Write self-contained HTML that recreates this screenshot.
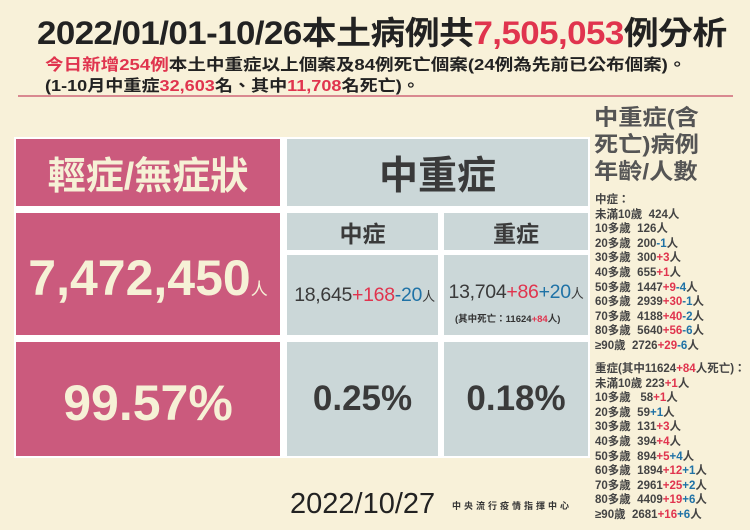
<!DOCTYPE html>
<html><head><meta charset="utf-8"><style>
*{margin:0;padding:0;box-sizing:border-box}
body{width:750px;height:530px;background:#f8f1d9;position:relative;overflow:hidden;font-family:"Liberation Sans","Noto Sans CJK TC",sans-serif;font-weight:bold;color:#333}
.a{position:absolute;white-space:nowrap}
.r{color:#e0344e}.b{color:#1f72a6}
.p{position:absolute;background:#cb5a7d;color:#f6f1d6;display:flex;align-items:center;justify-content:center;white-space:nowrap}
.g{position:absolute;background:#cbd7d8;color:#3a3a3a;display:flex;align-items:center;justify-content:center;white-space:nowrap}
.rt{position:absolute;left:595px;font-size:11.5px;color:#444;line-height:14.6px;white-space:nowrap}
</style></head><body>
<div class="a" style="left:37px;top:8px;font-size:32px;color:#222;letter-spacing:-0.5px;transform:scaleX(1.09);transform-origin:left">2022/01/01-10/26本土病例共<span class="r">7,505,053</span>例分析</div>
<div class="a" style="left:45px;top:51px;font-size:16px;color:#222;transform:scaleX(1.16);transform-origin:left"><span class="r">今日新增254例</span>本土中重症以上個案及84例死亡個案(24例為先前已公布個案)。</div>
<div class="a" style="left:45px;top:72px;font-size:16px;color:#222;transform:scaleX(1.13);transform-origin:left">(1-10月中重症<span class="r">32,603</span>名、其中<span class="r">11,708</span>名死亡)。</div>
<div class="a" style="left:18px;top:95px;width:715px;height:2px;background:#d98990"></div>
<div class="a" style="left:14px;top:137px;width:576px;height:321px;background:#fff"></div>
<div class="p" style="left:16px;top:139px;width:264px;height:67px;font-size:38px">輕症/無症狀</div>
<div class="p" style="left:16px;top:213px;width:264px;height:122px;font-size:50px"><span style="margin-top:8px">7,472,450<span style="font-size:17px;font-weight:normal">人</span></span></div>
<div class="p" style="left:16px;top:342px;width:264px;height:114px;font-size:50px"><span style="margin-top:8px">99.57%</span></div>
<div class="g" style="left:287px;top:139px;width:301px;height:67px;font-size:39px">中重症</div>
<div class="g" style="left:287px;top:213px;width:151px;height:37px;font-size:23px">中症</div>
<div class="g" style="left:444px;top:213px;width:144px;height:37px;font-size:23px">重症</div>
<div class="g" style="left:287px;top:255px;width:151px;height:80px;font-size:19.5px;font-weight:normal;letter-spacing:-0.3px"><span style="margin-left:4px">18,645<span class="r">+168</span><span class="b">-20</span><span style="font-size:13px">人</span></span></div>
<div class="g" style="left:444px;top:255px;width:144px;height:80px;font-size:19.5px;font-weight:normal;letter-spacing:-0.3px"><span style="margin-top:-6px">13,704<span class="r">+86</span><span class="b">+20</span><span style="font-size:13px">人</span></span></div>
<div class="a" style="left:455px;top:311px;font-size:9.5px;color:#333">(其中死亡：11624<span class="r">+84</span>人)</div>
<div class="g" style="left:287px;top:342px;width:151px;height:114px;font-size:35px">0.25%</div>
<div class="g" style="left:444px;top:342px;width:144px;height:114px;font-size:35px">0.18%</div>
<div class="a" style="left:290px;top:488px;font-size:29px;color:#222;font-weight:normal">2022/10/27</div>
<div class="a" style="left:452px;top:499px;font-size:9px;color:#333;letter-spacing:3px">中央流行疫情指揮中心</div>
<div class="a" style="left:594px;top:104px;font-size:22px;color:#555;line-height:27px;transform:scaleX(1.1);transform-origin:left">中重症(含<br>死亡)病例<br>年齡/人數</div>
<div class="rt" style="top:193px">中症：<br>未滿10歲&nbsp; 424人<br>10多歲&nbsp; 126人<br>20多歲&nbsp; 200<span class="b">-1</span>人<br>30多歲&nbsp; 300<span class="r">+3</span>人<br>40多歲&nbsp; 655<span class="r">+1</span>人<br>50多歲&nbsp; 1447<span class="r">+9</span><span class="b">-4</span>人<br>60多歲&nbsp; 2939<span class="r">+30</span><span class="b">-1</span>人<br>70多歲&nbsp; 4188<span class="r">+40</span><span class="b">-2</span>人<br>80多歲&nbsp; 5640<span class="r">+56</span><span class="b">-6</span>人<br>≥90歲&nbsp; 2726<span class="r">+29</span><span class="b">-6</span>人</div>
<div class="rt" style="top:362px">重症(其中11624<span class="r">+84</span>人死亡)：<br>未滿10歲 223<span class="r">+1</span>人<br>10多歲&nbsp;&nbsp; 58<span class="r">+1</span>人<br>20多歲&nbsp; 59<span class="b">+1</span>人<br>30多歲&nbsp; 131<span class="r">+3</span>人<br>40多歲&nbsp; 394<span class="r">+4</span>人<br>50多歲&nbsp; 894<span class="r">+5</span><span class="b">+4</span>人<br>60多歲&nbsp; 1894<span class="r">+12</span><span class="b">+1</span>人<br>70多歲&nbsp; 2961<span class="r">+25</span><span class="b">+2</span>人<br>80多歲&nbsp; 4409<span class="r">+19</span><span class="b">+6</span>人<br>≥90歲&nbsp; 2681<span class="r">+16</span><span class="b">+6</span>人</div>
</body></html>
